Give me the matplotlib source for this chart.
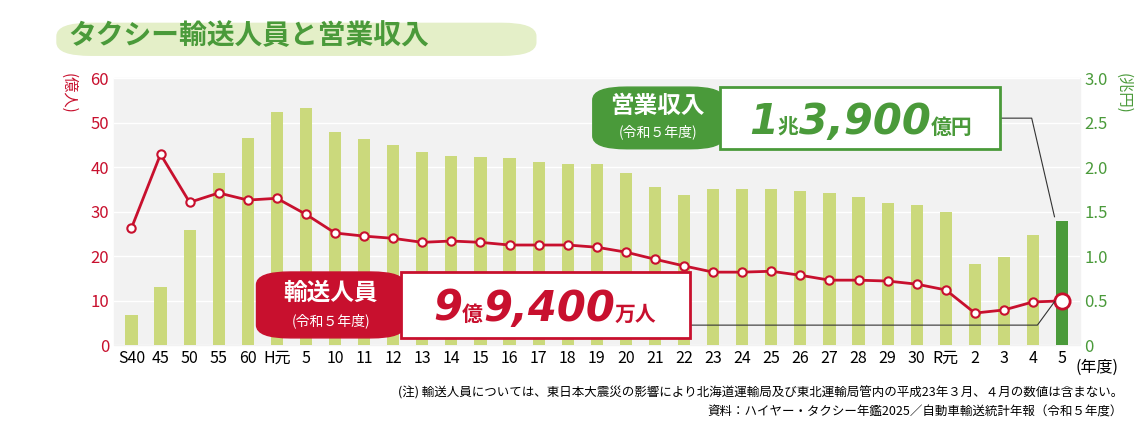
import matplotlib
matplotlib.use("Agg")
import matplotlib.pyplot as plt
from matplotlib.patches import FancyBboxPatch, Rectangle
plt.rcParams['font.family'] = ['Noto Sans CJK JP', 'DejaVu Sans']

categories = ["S40","45","50","55","60","H元","5","10","11","12","13","14","15","16","17","18","19","20","21","22","23","24","25","26","27","28","29","30","R元","2","3","4","5"]
revenue = [0.34,0.65,1.29,1.93,2.33,2.62,2.67,2.40,2.32,2.25,2.17,2.13,2.11,2.10,2.06,2.04,2.03,1.94,1.78,1.69,1.76,1.76,1.75,1.73,1.71,1.67,1.60,1.58,1.50,0.91,0.99,1.24,1.39]
persons = [26.3,42.9,32.1,34.2,32.6,33.0,29.4,25.2,24.5,24.0,23.1,23.4,23.1,22.5,22.5,22.5,22.0,20.9,19.3,17.8,16.4,16.4,16.6,15.7,14.6,14.6,14.4,13.7,12.4,7.2,7.9,9.7,9.94]

RED = "#c8102e"; GREEN = "#4a9a3a"; LG = "#cbd97c"
fig = plt.figure(figsize=(11.4, 4.25), dpi=100)
ax = fig.add_axes([0.10, 0.188, 0.847, 0.628])
ax2 = ax.twinx()
ax2.set_zorder(1); ax.set_zorder(2); ax.patch.set_visible(False)
x = range(len(categories))
cols = [LG]*(len(categories)-1) + [GREEN]
ax2.bar(x, revenue, width=0.42, color=cols, zorder=2)
ax2.set_ylim(0, 3.0)
ax2.set_yticks([0,0.5,1.0,1.5,2.0,2.5,3.0])
ax2.set_yticklabels(["0","0.5","1.0","1.5","2.0","2.5","3.0"], color=GREEN, fontsize=12)
ax.plot(x, persons, color=RED, lw=2, marker='o', ms=6, mfc='white', mec=RED, mew=1.5, zorder=5)
ax.plot([len(categories)-1], [persons[-1]], 'o', ms=11, mfc='white', mec=RED, mew=2, zorder=6)
ax.set_ylim(0, 60)
ax.set_yticks(range(0, 61, 10))
ax.tick_params(axis='y', colors=RED, labelsize=12, length=0)
ax2.tick_params(length=0)
ax.set_xlim(-0.6, len(categories)-0.4)
ax.set_xticks(list(x))
ax.set_xticklabels(categories, fontsize=11.5)
ax.tick_params(axis='x', length=0)
for a in (ax, ax2):
    for s in a.spines.values(): s.set_visible(False)
fig.patches.append(Rectangle((0.10,0.188),0.847,0.628, transform=fig.transFigure, color="#f2f2f2", zorder=0))
ax2.patch.set_visible(False)
for v in range(0, 61, 10):
    ax2.axhline(v/20, color="white", lw=1, zorder=1)

fig.text(0.06, 0.78, "(億人)", rotation=270, color=RED, fontsize=11, ha='center', va='center')
fig.text(0.985, 0.78, "(兆円)", rotation=270, color=GREEN, fontsize=11, ha='center', va='center')
fig.text(0.962, 0.135, "(年度)", fontsize=11.5, ha='center', va='center')

# title
fig.patches.append(FancyBboxPatch((0.05,0.87),0.42,0.075, boxstyle="round,pad=0,rounding_size=0.03", transform=fig.transFigure, color="#e4efc8", zorder=0))
fig.text(0.06, 0.915, "タクシー輸送人員と営業収入", color=GREEN, fontsize=20, fontweight='bold', va='center')

renderer = fig.canvas.get_renderer()
def seq(xc, y, parts, color):
    objs = []
    for s, big in parts:
        if big:
            t = fig.text(0, y, s, color=color, fontsize=30, fontweight='heavy', fontstyle='italic',
                         family=['DejaVu Sans'], va='baseline', zorder=7)
        else:
            t = fig.text(0, y, s, color=color, fontsize=15, fontweight='bold', va='baseline', zorder=7)
        objs.append(t)
    widths = [o.get_window_extent(renderer).width / fig.bbox.width for o in objs]
    xx = xc - sum(widths) / 2
    for o, w in zip(objs, widths):
        o.set_x(xx); xx += w

# revenue callout
fig.patches.append(FancyBboxPatch((0.52,0.65),0.115,0.145, boxstyle="round,pad=0,rounding_size=0.03", transform=fig.transFigure, color=GREEN, zorder=5))
fig.patches.append(Rectangle((0.632,0.65),0.245,0.145, transform=fig.transFigure, facecolor='white', edgecolor=GREEN, lw=2, zorder=5))
fig.text(0.577, 0.75, "営業収入", color='white', fontsize=17, fontweight='bold', ha='center', va='center', zorder=6)
fig.text(0.577, 0.69, "(令和５年度)", color='white', fontsize=10, ha='center', va='center', zorder=6)
seq(0.755, 0.685, [("1", True), ("兆", False), ("3,900", True), ("億円", False)], GREEN)
fig.lines.append(plt.Line2D([0.877,0.905,0.925],[0.722,0.722,0.49], transform=fig.transFigure, color='#333', lw=0.8))

# persons callout
fig.patches.append(FancyBboxPatch((0.225,0.205),0.13,0.155, boxstyle="round,pad=0,rounding_size=0.03", transform=fig.transFigure, color=RED, zorder=5))
fig.patches.append(Rectangle((0.352,0.205),0.253,0.155, transform=fig.transFigure, facecolor='white', edgecolor=RED, lw=2, zorder=5))
fig.text(0.29, 0.31, "輸送人員", color='white', fontsize=17, fontweight='bold', ha='center', va='center', zorder=6)
fig.text(0.29, 0.245, "(令和５年度)", color='white', fontsize=10, ha='center', va='center', zorder=6)
seq(0.478, 0.245, [("9", True), ("億", False), ("9,400", True), ("万人", False)], RED)
fig.lines.append(plt.Line2D([0.605,0.91,0.925],[0.235,0.235,0.29], transform=fig.transFigure, color='#333', lw=0.8))

fig.text(0.985, 0.075, "(注) 輸送人員については、東日本大震災の影響により北海道運輸局及び東北運輸局管内の平成23年３月、４月の数値は含まない。", fontsize=9, ha='right', va='center')
fig.text(0.985, 0.03, "資料：ハイヤー・タクシー年鑑2025／自動車輸送統計年報（令和５年度）", fontsize=9, ha='right', va='center')
fig.savefig("out.png", dpi=100)
